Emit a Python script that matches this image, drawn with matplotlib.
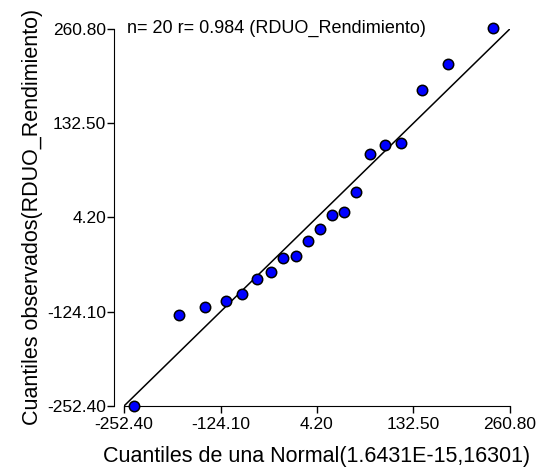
import matplotlib
matplotlib.use('Agg')
import matplotlib.pyplot as plt

plt.rcParams['font.family'] = ['Liberation Sans', 'DejaVu Sans']

# cuantiles teoricos (normal) y observados
teoricos = [-239, -179, -144.5, -117, -95, -76, -57.5, -40.6, -24, -8.2,
            7.6, 24, 40.4, 56, 75, 95, 116, 143.5, 178.5, 238]
observados = [-252.4, -128.2, -118.3, -109.3, -100.2, -79.1, -69.6, -51.0, -48.7, -28.0,
              -11.4, 7.6, 12.2, 38.3, 91.1, 103.3, 105.6, 177.8, 213.0, 262.2]
ticks = [-252.40, -124.10, 4.20, 132.50, 260.80]
tick_labels = ['-252.40', '-124.10', '4.20', '132.50', '260.80']
lim = (-252.40, 260.80)

fig = plt.figure(figsize=(5.41, 4.72), dpi=100)
ax = fig.add_axes([124/541, 1 - 406/472, 386/541, (406 - 28.8)/472])

ax.plot(lim, lim, color='black', lw=1.1, zorder=2)
ax.scatter(teoricos, observados, s=56, color='#0000ff', edgecolor='black',
           linewidth=1.1, zorder=3, clip_on=False)

ax.set_xlim(lim)
ax.set_ylim(lim)
ax.set_xticks(ticks)
ax.set_xticklabels(tick_labels)
ax.set_yticks(ticks)
ax.set_yticklabels(tick_labels)

ax.spines['top'].set_visible(False)
ax.spines['right'].set_visible(False)
ax.spines['left'].set_position(('outward', 7))
ax.tick_params(axis='both', labelsize=12.5, length=5, width=1, direction='out')
ax.tick_params(axis='x', pad=3)
ax.tick_params(axis='y', pad=1)

ax.set_xlabel('Cuantiles de una Normal(1.6431E-15,16301)', fontsize=15.5, labelpad=10)
ax.set_ylabel('Cuantiles observados(RDUO_Rendimiento)', fontsize=15.5, labelpad=3)

ax.text(0.008, 1.0, 'n= 20 r= 0.984 (RDUO_Rendimiento)', transform=ax.transAxes,
        fontsize=13, va='center', ha='left')

fig.savefig('out.png', dpi=100)
